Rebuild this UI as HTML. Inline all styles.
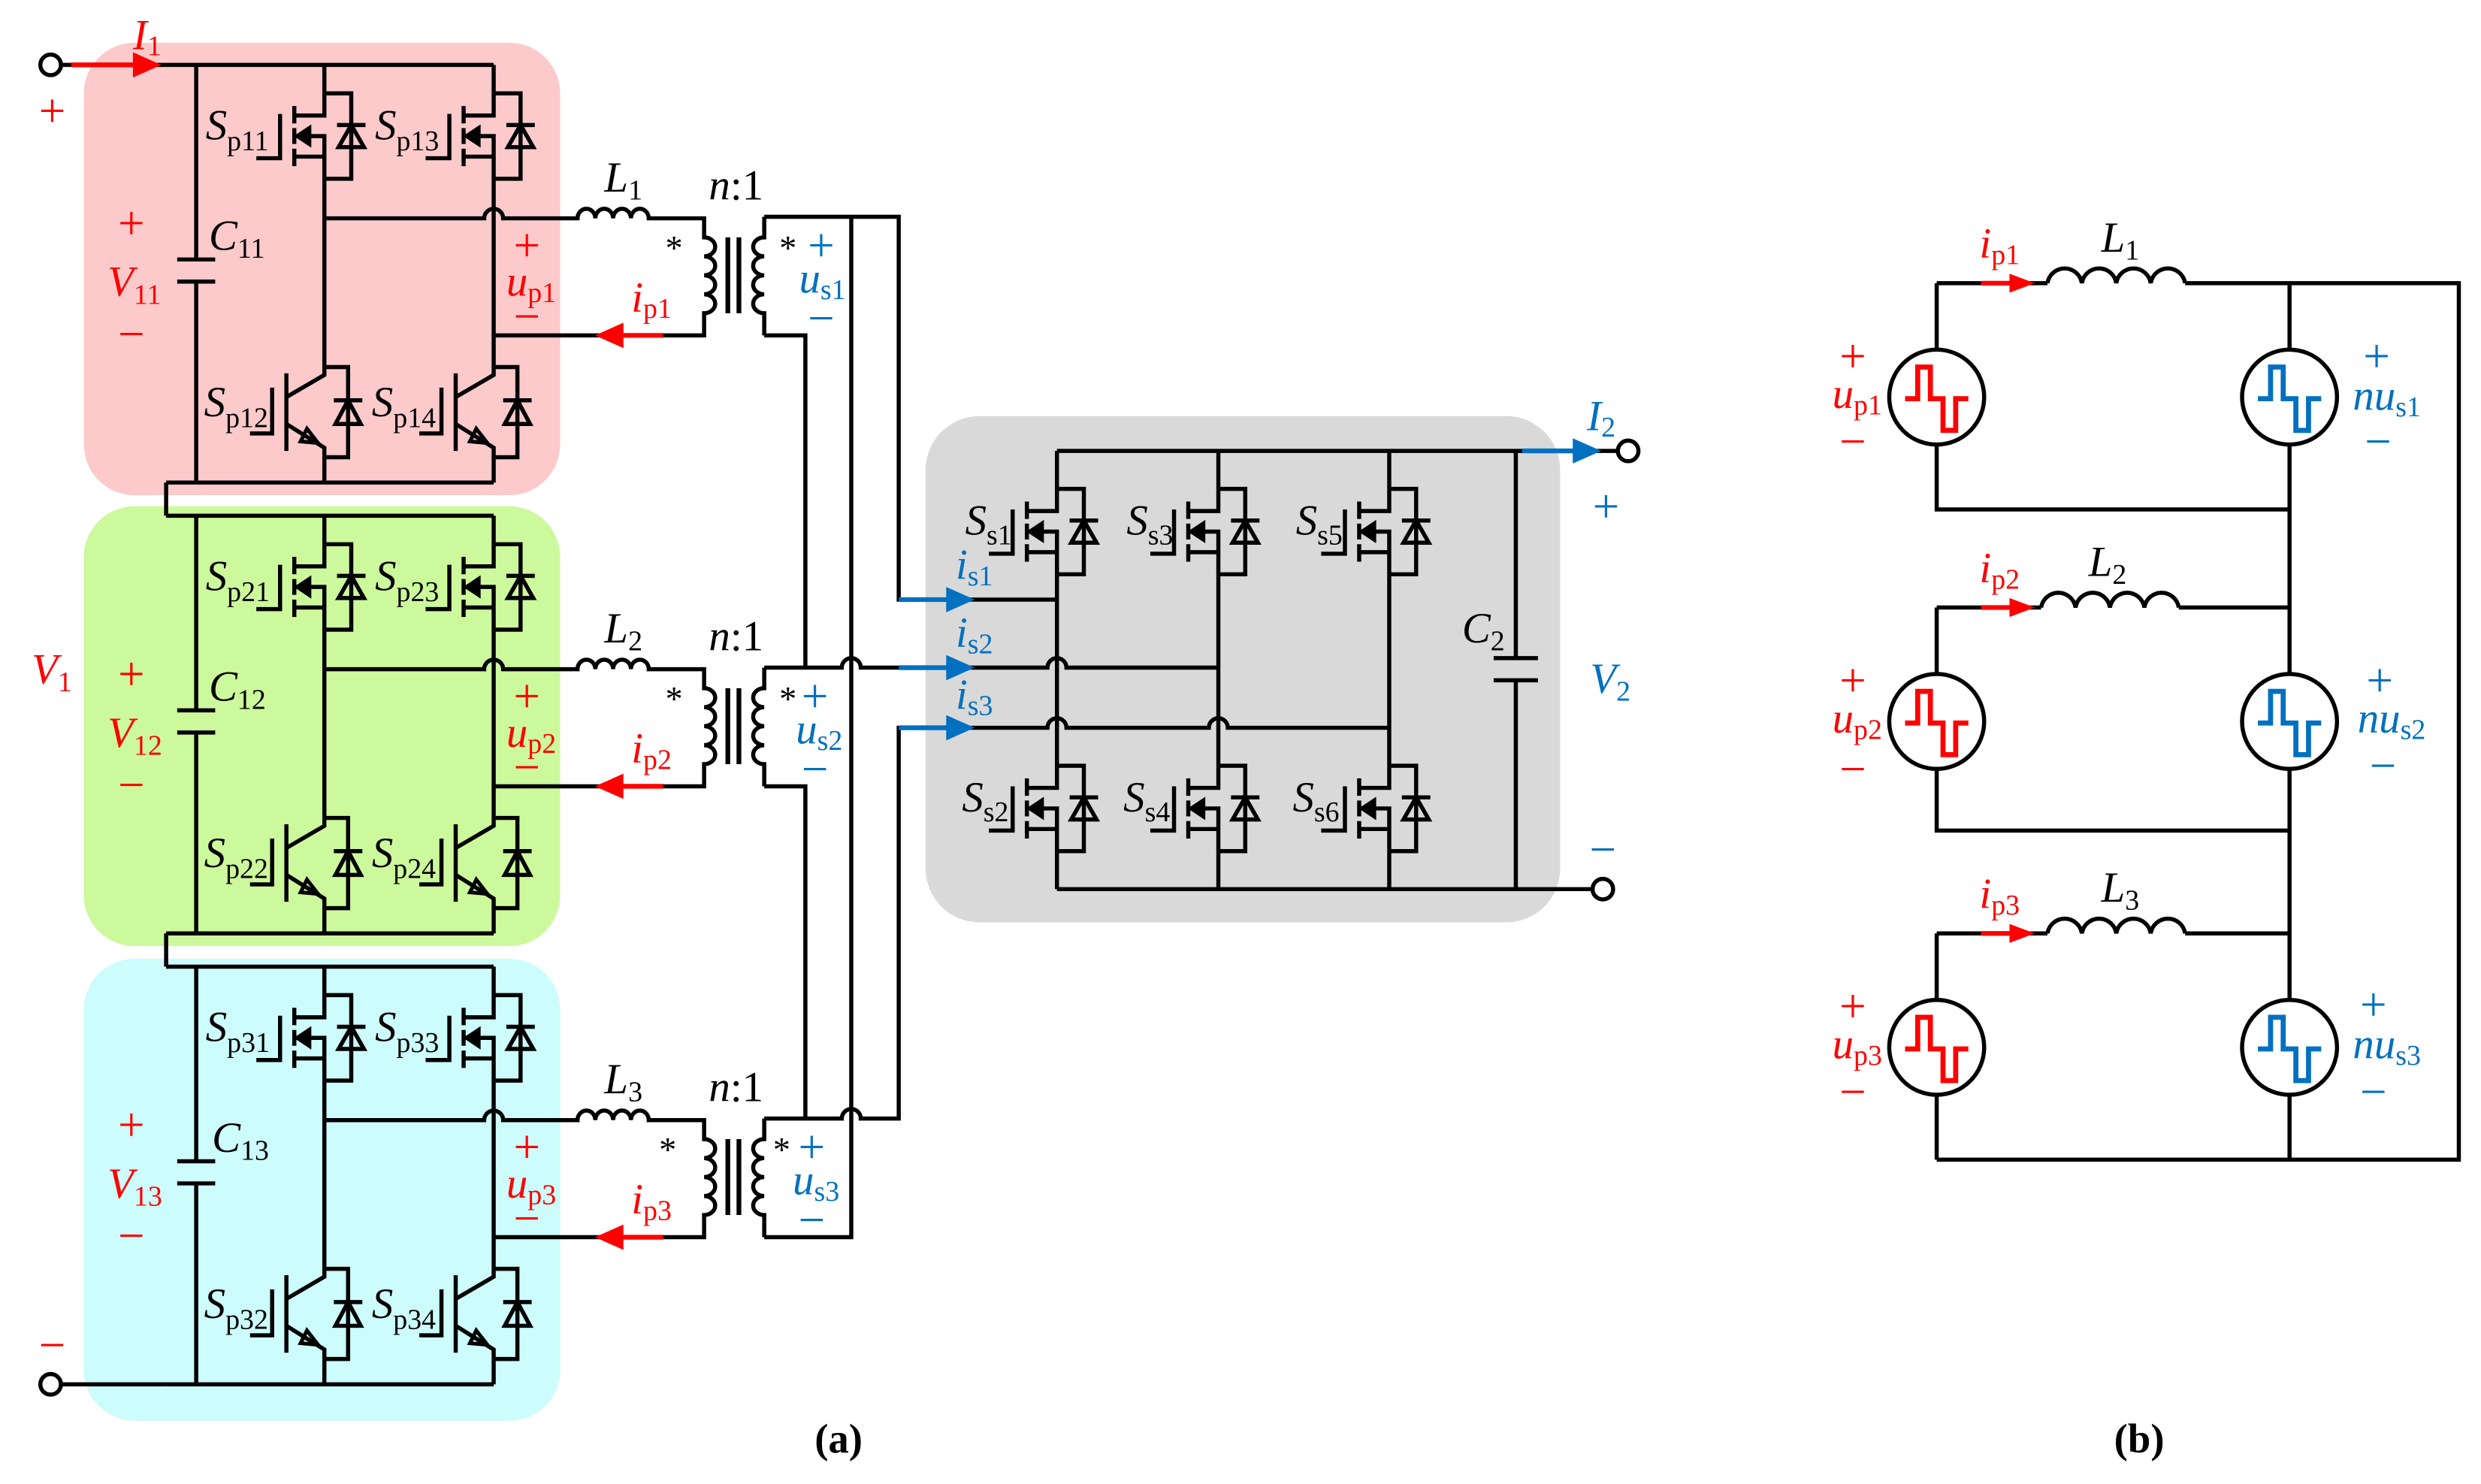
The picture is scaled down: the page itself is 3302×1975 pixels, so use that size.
<!DOCTYPE html>
<html><head><meta charset="utf-8"><style>
html,body{margin:0;padding:0;background:#fff}
svg{display:block}
text{font-family:"Liberation Serif",serif}
.i{font-style:italic}
.pm{font-size:30px}
</style></head><body>
<svg width="3302" height="1975" viewBox="0 0 1568 938" preserveAspectRatio="none" xmlns="http://www.w3.org/2000/svg">
<defs>
<g id="mos" fill="none" stroke="#000" stroke-width="2.6">
<path d="M0,-27 V-13 H-19 M-19,0 H0 V27 M0,13 H-19 M0,-27 H17 V27 H0"/>
<path d="M-19,-19 V-8 M-19,-5 V5 M-19,8 V19 M-28,-14 V14 H-43"/>
<polygon points="-18,0 -9,-6 -9,6" fill="#000" stroke-width="1.5"/>
<path d="M8,-7 H26"/><polygon points="17,-7 9,7 25,7"/>
</g>
<g id="igbt" fill="none" stroke="#000" stroke-width="2.6">
<path d="M0,-28 V-23 L-24,-9 M-24,-24 V25 M-33,-15 V14 H-47 M-24,8 L0,23 V29 M0,-28 H15 V29 H0"/>
<polygon points="-4,20 -15,19 -11,11" stroke-width="2.4"/>
<path d="M6,-7 H24"/><polygon points="15,-7 7,8 23,8"/>
</g>
<g id="mod" fill="none" stroke="#000" stroke-width="2.6">
<path d="M105,41 H312 M105,305 H312 M124,41 V164 M112,164 H136 M112,178 H136 M124,178 V305"/>
<path d="M205,41 V59 M205,113 V232 M205,289 V305 M312,41 V59 M312,113 V232 M312,289 V305"/>
<use href="#mos" x="205" y="86"/><use href="#mos" x="312" y="86"/>
<use href="#igbt" x="205" y="260"/><use href="#igbt" x="312" y="260"/>
<path d="M205,138 H306 a6,6 0 0 1 12,0 H365 a5.6,6 0 0 1 11.25,0 a5.6,6 0 0 1 11.25,0 a5.6,6 0 0 1 11.25,0 a5.6,6 0 0 1 11.25,0 H445 V150 a7,6 0 0 1 0,12 a7,6 0 0 1 0,12 a7,6 0 0 1 0,12 a7,6 0 0 1 0,12 V212 H312"/>
<path d="M460,150 V198 M467,150 V198" stroke-width="3"/>
<path d="M483,137 V150 a7,6 0 0 0 0,12 a7,6 0 0 0 0,12 a7,6 0 0 0 0,12 a7,6 0 0 0 0,12 V212"/>
<path d="M419,212 H392" stroke="#f00" stroke-width="3"/>
<polygon points="376,212 394,204 394,220" fill="#f00" stroke="none"/>
</g>
<g id="src" stroke="#000" stroke-width="2.6"><circle r="30" fill="#fff"/></g>
<g id="ind" fill="none" stroke="#000" stroke-width="2.6"><path d="M0,0 a11,11 0 0 1 21.75,0 a11,11 0 0 1 21.75,0 a11,11 0 0 1 21.75,0 a11,11 0 0 1 21.75,0"/></g>
</defs>

<rect x="53" y="27" width="301" height="286" rx="32" fill="#fccaca"/>
<rect x="53" y="320" width="301" height="278" rx="32" fill="#ccf99c"/>
<rect x="53" y="606" width="301" height="292" rx="32" fill="#ccfcfc"/>
<rect x="585" y="263" width="401" height="320" rx="34" fill="#d9d9d9"/>

<use href="#mod"/>
<use href="#mod" y="285"/>
<use href="#mod" y="570"/>

<g fill="none" stroke="#000" stroke-width="2.6">
<circle cx="32" cy="41" r="6.5" fill="#fff"/><path d="M38.5,41 H105"/>
<circle cx="32" cy="875" r="6.5" fill="#fff"/><path d="M38.5,875 H105"/>
<path d="M105,305 V326 M105,590 V611"/>
<path d="M483,137 H568 V379 H668"/>
<path d="M538,137 V782 H483"/>
<path d="M483,212 H509 V422 M483,422 H532 a6,6 0 0 1 12,0 H662 a6,6 0 0 1 12,0 H770"/>
<path d="M483,497 H509 V707 M483,707 H532 a6,6 0 0 1 12,0 H568 V460 H662 a6,6 0 0 1 12,0 H764 a6,6 0 0 1 12,0 H878"/>
<path d="M668,285 H1022 M668,562 H1006.5"/>
<circle cx="1029" cy="285" r="6.5" fill="#fff"/><circle cx="1013" cy="562" r="6.5" fill="#fff"/>
<path d="M958,285 V416 M944,416 H972 M944,430 H972 M958,430 V562"/>
<path d="M668,285 V309 M668,363 V484 M668,538 V562 M770,285 V309 M770,363 V484 M770,538 V562 M878,285 V309 M878,363 V484 M878,538 V562"/>
<use href="#mos" x="668" y="336"/><use href="#mos" x="770" y="336"/><use href="#mos" x="878" y="336"/>
<use href="#mos" x="668" y="511"/><use href="#mos" x="770" y="511"/><use href="#mos" x="878" y="511"/>
</g>
<path d="M45,41 H86" stroke="#f00" stroke-width="3"/><polygon points="102,41 84,33 84,49" fill="#f00"/>
<g stroke="#0070c0" stroke-width="3"><path d="M568,379 H600 M568,422 H600 M568,460 H600 M962,285 H996"/></g>
<g fill="#0070c0"><polygon points="616,379 598,371 598,387"/><polygon points="616,422 598,414 598,430"/><polygon points="616,460 598,452 598,468"/><polygon points="1012,285 994,277 994,293"/></g>

<!-- part b -->
<g fill="none" stroke="#000" stroke-width="2.6">
<path d="M1224,179 H1294 M1381,179 H1554 V733 H1224 M1447,179 V733 M1224,179 V322 H1447"/>
<path d="M1224,384 H1290 M1377,384 H1447 M1224,384 V525 H1447"/>
<path d="M1224,590 H1294 M1381,590 H1447 M1224,590 V733"/>
</g>
<use href="#ind" x="1294" y="179"/><use href="#ind" x="1290" y="384"/><use href="#ind" x="1294" y="590"/>
<g stroke="#f00" stroke-width="3"><path d="M1252,179 H1272 M1252,384 H1272 M1252,590 H1272"/></g>
<g fill="#f00"><polygon points="1286,179 1270,173 1270,185"/><polygon points="1286,384 1270,378 1270,390"/><polygon points="1286,590 1270,584 1270,596"/></g>
<g>
<use href="#src" x="1224" y="251"/><use href="#src" x="1224" y="456"/><use href="#src" x="1224" y="662"/>
<use href="#src" x="1447" y="251"/><use href="#src" x="1447" y="456"/><use href="#src" x="1447" y="662"/>
</g>
<g fill="none" stroke-width="3.2" stroke-linejoin="miter">
<path stroke="#f00" d="M1204,252 H1212 V232 H1220 V252 H1228 V272 H1236 V252 H1244 M1204,457 H1212 V437 H1220 V457 H1228 V477 H1236 V457 H1244 M1204,663 H1212 V643 H1220 V663 H1228 V683 H1236 V663 H1244"/>
<path stroke="#0070c0" d="M1427,252 H1435 V232 H1443 V252 H1451 V272 H1459 V252 H1467 M1427,457 H1435 V437 H1443 V457 H1451 V477 H1459 V457 H1467 M1427,663 H1435 V643 H1443 V663 H1451 V683 H1459 V663 H1467"/>
</g>

<g font-size="27">
<g>
<text x="130" y="88" class="i">S<tspan font-size="18" font-style="normal" dy="7">p11</tspan></text>
<text x="237" y="88" class="i">S<tspan font-size="18" font-style="normal" dy="7">p13</tspan></text>
<text x="129" y="263" class="i">S<tspan font-size="18" font-style="normal" dy="7">p12</tspan></text>
<text x="235" y="263" class="i">S<tspan font-size="18" font-style="normal" dy="7">p14</tspan></text>
<text x="132" y="158" class="i">C<tspan font-size="18" font-style="normal" dy="5">11</tspan></text>
<text x="382" y="121" class="i">L<tspan font-size="18" font-style="normal" dy="5">1</tspan></text>
<text x="448" y="126"><tspan class="i">n</tspan>:1</text>
<text x="426" y="164" font-size="22" text-anchor="middle">*</text>
<text x="498" y="164" font-size="22" text-anchor="middle">*</text>
<g fill="#f00">
<text x="83" y="151" class="pm" text-anchor="middle">+</text>
<text x="68" y="187" class="i">V<tspan font-size="18" font-style="normal" dy="5">11</tspan></text>
<text x="83" y="221" class="pm" text-anchor="middle">−</text>
<text x="333" y="165" class="pm" text-anchor="middle">+</text>
<text x="320" y="187" class="i">u<tspan font-size="18" font-style="normal" dy="4">p1</tspan></text>
<text x="333" y="210" class="pm" text-anchor="middle">−</text>
<text x="399" y="197" class="i">i<tspan font-size="18" font-style="normal" dy="4">p1</tspan></text>
</g>
<g fill="#0070c0">
<text x="519" y="165" class="pm" text-anchor="middle">+</text>
<text x="505" y="185" class="i">u<tspan font-size="18" font-style="normal" dy="4">s1</tspan></text>
<text x="519" y="211" class="pm" text-anchor="middle">−</text>
</g>
</g>
<g transform="translate(0,285)">
<text x="130" y="88" class="i">S<tspan font-size="18" font-style="normal" dy="7">p21</tspan></text>
<text x="237" y="88" class="i">S<tspan font-size="18" font-style="normal" dy="7">p23</tspan></text>
<text x="129" y="263" class="i">S<tspan font-size="18" font-style="normal" dy="7">p22</tspan></text>
<text x="235" y="263" class="i">S<tspan font-size="18" font-style="normal" dy="7">p24</tspan></text>
<text x="132" y="158" class="i">C<tspan font-size="18" font-style="normal" dy="5">12</tspan></text>
<text x="382" y="121" class="i">L<tspan font-size="18" font-style="normal" dy="5">2</tspan></text>
<text x="448" y="126"><tspan class="i">n</tspan>:1</text>
<text x="426" y="164" font-size="22" text-anchor="middle">*</text>
<text x="498" y="164" font-size="22" text-anchor="middle">*</text>
<g fill="#f00">
<text x="83" y="151" class="pm" text-anchor="middle">+</text>
<text x="68" y="187" class="i">V<tspan font-size="18" font-style="normal" dy="5">12</tspan></text>
<text x="83" y="221" class="pm" text-anchor="middle">−</text>
<text x="333" y="165" class="pm" text-anchor="middle">+</text>
<text x="320" y="187" class="i">u<tspan font-size="18" font-style="normal" dy="4">p2</tspan></text>
<text x="333" y="210" class="pm" text-anchor="middle">−</text>
<text x="399" y="197" class="i">i<tspan font-size="18" font-style="normal" dy="4">p2</tspan></text>
</g>
<g fill="#0070c0">
<text x="515" y="165" class="pm" text-anchor="middle">+</text>
<text x="503" y="185" class="i">u<tspan font-size="18" font-style="normal" dy="4">s2</tspan></text>
<text x="515" y="211" class="pm" text-anchor="middle">−</text>
</g>
</g>
<g transform="translate(0,570)">
<text x="130" y="88" class="i">S<tspan font-size="18" font-style="normal" dy="7">p31</tspan></text>
<text x="237" y="88" class="i">S<tspan font-size="18" font-style="normal" dy="7">p33</tspan></text>
<text x="129" y="263" class="i">S<tspan font-size="18" font-style="normal" dy="7">p32</tspan></text>
<text x="235" y="263" class="i">S<tspan font-size="18" font-style="normal" dy="7">p34</tspan></text>
<text x="134" y="158" class="i">C<tspan font-size="18" font-style="normal" dy="5">13</tspan></text>
<text x="382" y="121" class="i">L<tspan font-size="18" font-style="normal" dy="5">3</tspan></text>
<text x="448" y="126"><tspan class="i">n</tspan>:1</text>
<text x="422" y="164" font-size="22" text-anchor="middle">*</text>
<text x="494" y="164" font-size="22" text-anchor="middle">*</text>
<g fill="#f00">
<text x="83" y="151" class="pm" text-anchor="middle">+</text>
<text x="68" y="187" class="i">V<tspan font-size="18" font-style="normal" dy="5">13</tspan></text>
<text x="83" y="221" class="pm" text-anchor="middle">−</text>
<text x="333" y="165" class="pm" text-anchor="middle">+</text>
<text x="320" y="187" class="i">u<tspan font-size="18" font-style="normal" dy="4">p3</tspan></text>
<text x="333" y="210" class="pm" text-anchor="middle">−</text>
<text x="399" y="197" class="i">i<tspan font-size="18" font-style="normal" dy="4">p3</tspan></text>
</g>
<g fill="#0070c0">
<text x="513" y="165" class="pm" text-anchor="middle">+</text>
<text x="501" y="185" class="i">u<tspan font-size="18" font-style="normal" dy="4">s3</tspan></text>
<text x="513" y="211" class="pm" text-anchor="middle">−</text>
</g>
</g>

<g fill="#f00">
<text x="84" y="31" class="i">I<tspan font-size="18" font-style="normal" dy="4">1</tspan></text>
<text x="33" y="80" class="pm" text-anchor="middle">+</text>
<text x="20" y="432" class="i">V<tspan font-size="18" font-style="normal" dy="5">1</tspan></text>
<text x="33" y="860" class="pm" text-anchor="middle">−</text>
</g>

<text x="610" y="338" class="i">S<tspan font-size="18" font-style="normal" dy="6">s1</tspan></text>
<text x="712" y="338" class="i">S<tspan font-size="18" font-style="normal" dy="6">s3</tspan></text>
<text x="819" y="338" class="i">S<tspan font-size="18" font-style="normal" dy="6">s5</tspan></text>
<text x="608" y="513" class="i">S<tspan font-size="18" font-style="normal" dy="6">s2</tspan></text>
<text x="710" y="513" class="i">S<tspan font-size="18" font-style="normal" dy="6">s4</tspan></text>
<text x="817" y="513" class="i">S<tspan font-size="18" font-style="normal" dy="6">s6</tspan></text>
<text x="924" y="406" class="i">C<tspan font-size="18" font-style="normal" dy="5">2</tspan></text>
<g fill="#0070c0">
<text x="604" y="366" class="i">i<tspan font-size="18" font-style="normal" dy="4">s1</tspan></text>
<text x="604" y="409" class="i">i<tspan font-size="18" font-style="normal" dy="4">s2</tspan></text>
<text x="604" y="448" class="i">i<tspan font-size="18" font-style="normal" dy="4">s3</tspan></text>
<text x="1003" y="272" class="i">I<tspan font-size="18" font-style="normal" dy="4">2</tspan></text>
<text x="1015" y="330" class="pm" text-anchor="middle">+</text>
<text x="1005" y="438" class="i">V<tspan font-size="18" font-style="normal" dy="5">2</tspan></text>
<text x="1013" y="547" class="pm" text-anchor="middle">−</text>
</g>

<text x="1328" y="159" class="i">L<tspan font-size="18" font-style="normal" dy="5">1</tspan></text>
<text x="1320" y="364" class="i">L<tspan font-size="18" font-style="normal" dy="5">2</tspan></text>
<text x="1328" y="570" class="i">L<tspan font-size="18" font-style="normal" dy="5">3</tspan></text>
<g fill="#f00">
<text x="1251" y="163" class="i">i<tspan font-size="18" font-style="normal" dy="4">p1</tspan></text>
<text x="1251" y="368" class="i">i<tspan font-size="18" font-style="normal" dy="4">p2</tspan></text>
<text x="1251" y="574" class="i">i<tspan font-size="18" font-style="normal" dy="4">p3</tspan></text>
<text x="1171" y="235" class="pm" text-anchor="middle">+</text>
<text x="1158" y="258" class="i">u<tspan font-size="18" font-style="normal" dy="4">p1</tspan></text>
<text x="1171" y="289" class="pm" text-anchor="middle">−</text>
<text x="1171" y="440" class="pm" text-anchor="middle">+</text>
<text x="1158" y="463" class="i">u<tspan font-size="18" font-style="normal" dy="4">p2</tspan></text>
<text x="1171" y="496" class="pm" text-anchor="middle">−</text>
<text x="1171" y="646" class="pm" text-anchor="middle">+</text>
<text x="1158" y="669" class="i">u<tspan font-size="18" font-style="normal" dy="4">p3</tspan></text>
<text x="1171" y="700" class="pm" text-anchor="middle">−</text>
</g>
<g fill="#0070c0">
<text x="1502" y="235" class="pm" text-anchor="middle">+</text>
<text x="1487" y="259" class="i">nu<tspan font-size="18" font-style="normal" dy="4">s1</tspan></text>
<text x="1503" y="289" class="pm" text-anchor="middle">−</text>
<text x="1504" y="440" class="pm" text-anchor="middle">+</text>
<text x="1490" y="463" class="i">nu<tspan font-size="18" font-style="normal" dy="4">s2</tspan></text>
<text x="1506" y="494" class="pm" text-anchor="middle">−</text>
<text x="1500" y="645" class="pm" text-anchor="middle">+</text>
<text x="1487" y="669" class="i">nu<tspan font-size="18" font-style="normal" dy="4">s3</tspan></text>
<text x="1500" y="700" class="pm" text-anchor="middle">−</text>
</g>
<text x="530" y="918" font-weight="bold" text-anchor="middle" font-size="26">(a)</text>
<text x="1352" y="918" font-weight="bold" text-anchor="middle" font-size="26">(b)</text>
</g>
</svg>
</body></html>
